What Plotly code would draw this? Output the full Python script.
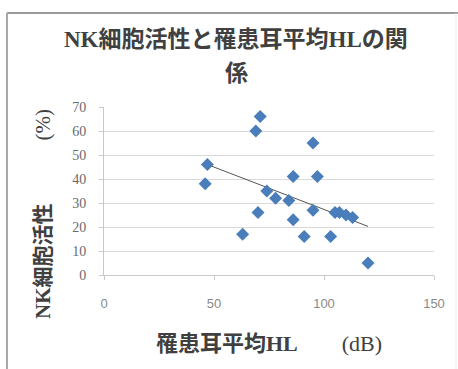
import numpy as np
import plotly.graph_objects as go

# Mean hearing level of the affected ear (dB) and NK cell activity (%)
hearing_db = [47, 46, 63, 71, 69, 70, 74, 78, 84, 86, 86, 91, 95, 95, 97, 103, 105, 107, 110, 113, 120]
nk_activity = [46, 38, 17, 66, 60, 26, 35, 32, 31, 41, 23, 16, 55, 27, 41, 16, 26, 26, 25, 24, 5]

x_ticks = [0, 50, 100, 150]
y_ticks = [0, 10, 20, 30, 40, 50, 60, 70]

title_line1 = "NK細胞活性と罹患耳平均HLの関"
title_line2 = "係"
x_title = "<b>罹患耳平均HL</b>　　(dB)"
y_title = "<b>NK細胞活性</b>　　　(%)"

SERIF = "Liberation Serif, Noto Sans CJK JP"
SANS = "Liberation Sans, Noto Sans CJK JP"

# Least-squares linear trend over the data range
slope, intercept = np.polyfit(hearing_db, nk_activity, 1)
trend_x = np.array([min(hearing_db), max(hearing_db)])
trend_y = slope * trend_x + intercept

fig = go.Figure()
fig.add_trace(go.Scatter(
    x=trend_x, y=trend_y, mode="lines",
    line=dict(color="#555555", width=1),
    hoverinfo="skip", showlegend=False,
))
fig.add_trace(go.Scatter(
    x=hearing_db, y=nk_activity, mode="markers",
    marker=dict(symbol="diamond", size=10, color="#4a7ebb"),
    showlegend=False,
))

W, H = 458, 369
L, R, T, B = 104, 24, 107, 94
pw, ph = W - L - R, H - T - B


def px_x(p):
    return (p - L) / pw


def px_y(p):
    return (H - B - p) / ph


fig.update_layout(
    width=W, height=H,
    margin=dict(l=L, r=R, t=T, b=B),
    paper_bgcolor="white", plot_bgcolor="white",
    xaxis=dict(
        range=[0, 150], tickvals=x_ticks, showgrid=False, zeroline=False,
        showline=True, linecolor="#c8c8c8", linewidth=1,
        ticks="outside", ticklen=4, tickcolor="#c8c8c8", ticklabelstandoff=12,
        tickfont=dict(family=SANS, size=13, color="#8a8a8a"),
    ),
    yaxis=dict(
        range=[0, 70], tickvals=y_ticks, showgrid=True, gridcolor="#d9d9d9",
        zeroline=False, showline=True, linecolor="#c8c8c8", linewidth=1,
        ticks="outside", ticklen=4, tickcolor="#c8c8c8", ticklabelstandoff=10,
        tickfont=dict(family=SERIF, size=14, color="#6a6a6a"),
    ),
    annotations=[
        dict(text=f"<b>{title_line1}</b>", x=px_x(236), y=px_y(39), xref="paper", yref="paper",
             showarrow=False, xanchor="center", yanchor="middle",
             font=dict(family=SERIF, size=23, color="#404040")),
        dict(text=f"<b>{title_line2}</b>", x=px_x(236), y=px_y(73), xref="paper", yref="paper",
             showarrow=False, xanchor="center", yanchor="middle",
             font=dict(family=SERIF, size=23, color="#404040")),
        dict(text=x_title, x=px_x(269), y=px_y(343), xref="paper", yref="paper",
             showarrow=False, xanchor="center", yanchor="middle",
             font=dict(family=SERIF, size=22, color="#404040")),
        dict(text=y_title, x=px_x(43), y=px_y(214), xref="paper", yref="paper",
             showarrow=False, xanchor="center", yanchor="middle", textangle=-90,
             font=dict(family=SERIF, size=21, color="#404040")),
    ],
    shapes=[
        dict(type="line", xref="paper", yref="paper", x0=px_x(7), x1=px_x(458),
             y0=px_y(13), y1=px_y(13), line=dict(color="#9a9a9a", width=2)),
        dict(type="line", xref="paper", yref="paper", x0=px_x(7), x1=px_x(7),
             y0=px_y(13), y1=px_y(369), line=dict(color="#a8a8a8", width=2)),
        dict(type="line", xref="paper", yref="paper", x0=px_x(456), x1=px_x(456),
             y0=px_y(13), y1=px_y(369), line=dict(color="#ececec", width=1)),
    ],
)

fig.write_html("out.html")
